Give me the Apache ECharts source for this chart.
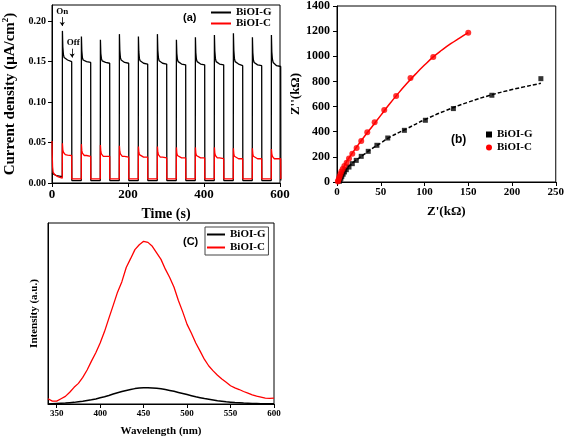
<!DOCTYPE html>
<html><head><meta charset="utf-8">
<script src="https://cdn.jsdelivr.net/npm/echarts@6/dist/echarts.min.js"></script>
<style>html,body{margin:0;padding:0;background:#fff}#c{width:567px;height:438px}</style>
</head><body><div id="c"></div>
<script>
// ---------- Panel (a): transient photocurrent ----------
const onTimes = [27,77,127,177,227,277,327,377,427,477,527,577];
const onOffsets = [0,0.4,1.5,3,5,8,14,24.8];       // s after light on
const lightOffDelay = 25.2;                         // s after light on
const gStart = [[0,0.012],[3,0.010],[12,0.009]];
const cStart = [[0,0.052],[0.6,0.035],[1.5,0.020],[3,0.013],[8,0.010],[15,0.008]];
const gCycles = [
  [0.008,0.188,0.168,0.159,0.155,0.153,0.152,0.150],
  [0.003,0.181,0.163,0.155,0.152,0.151,0.150,0.149],
  [0.003,0.177,0.160,0.154,0.151,0.150,0.149,0.148],
  [0.003,0.184,0.164,0.155,0.152,0.150,0.149,0.148],
  [0.003,0.181,0.162,0.154,0.151,0.149,0.148,0.147],
  [0.003,0.184,0.164,0.155,0.151,0.149,0.148,0.147],
  [0.003,0.177,0.160,0.153,0.150,0.148,0.147,0.146],
  [0.003,0.180,0.161,0.153,0.150,0.148,0.147,0.146],
  [0.003,0.183,0.163,0.154,0.150,0.148,0.147,0.146],
  [0.003,0.185,0.164,0.154,0.150,0.148,0.147,0.145],
  [0.003,0.180,0.161,0.152,0.149,0.147,0.146,0.145],
  [0.003,0.183,0.162,0.153,0.149,0.147,0.145,0.144]
];
const gOff = [0.003,0.003,0.003,0.003,0.003,0.003,0.003,0.003,0.003,0.003,0.003,0.003];
const cCycles = [
  [0.006,0.049,0.041,0.038,0.036,0.035,0.0345,0.034],
  [0.005,0.048,0.040,0.037,0.035,0.034,0.034,0.033],
  [0.005,0.047,0.039,0.036,0.034,0.033,0.033,0.033],
  [0.005,0.046,0.039,0.036,0.034,0.033,0.033,0.032],
  [0.005,0.045,0.038,0.035,0.033,0.033,0.032,0.032],
  [0.005,0.045,0.038,0.035,0.033,0.032,0.032,0.031],
  [0.005,0.044,0.037,0.034,0.033,0.032,0.031,0.031],
  [0.005,0.044,0.037,0.034,0.032,0.032,0.031,0.031],
  [0.005,0.044,0.037,0.034,0.032,0.031,0.031,0.030],
  [0.005,0.043,0.036,0.033,0.032,0.031,0.030,0.030],
  [0.005,0.043,0.036,0.033,0.031,0.031,0.030,0.030],
  [0.005,0.042,0.036,0.033,0.031,0.030,0.030,0.030]
];
const cOff = [0.005,0.005,0.005,0.005,0.005,0.005,0.005,0.005,0.005,0.005,0.005,0.005];
const timeTicks = [0,200,400,600];
const currentTicks = [0,0.05,0.10,0.15,0.20];

// ---------- Panel (b): Nyquist ----------
const gZre = [233,177,133,101,77,58,45.6,35.7,27.7,22,17.5,13.7,10.6,8.5,7,5.5,4.5,3.5,2.8];
const gZim = [822,690,584,491,411,350,292,244,204,172,146,119,98,80,62,45,30,16,6];
const cZre = [150,110,84,67.6,54,43,34.6,27.7,22.4,17.5,13.7,11,8.4,6.5,5,4,3,2.2,1.5,1];
const cZim = [1188,995,828,684,573,475,395,326,270,225,186,154,127,104,83,63,44,27,12,3];
const gFitZre = [2,4,6,10,15,20,30,40,50,60,80,100,125,150,175,200,233];
const gFitZim = [0,30,60,100,135,165,215,265,310,355,425,495,570,635,690,735,785];
const cFitZre = [0.5,2,5,10,15,20,30,40,50,60,70,80,90,100,110,120,130,140,150];
const cFitZim = [0,20,70,150,205,255,350,440,530,620,705,785,860,930,995,1050,1100,1145,1188];

// ---------- Panel (c): PL spectra ----------
const wavelength = [340,345,350,355,360,365,370,375,380,385,390,395,400,405,410,415,420,425,430,435,440,445,450,455,460,465,470,475,480,485,490,495,500,505,510,515,520,525,530,535,540,545,550,555,560,565,570,575,580,585,590,595,600];
const plC = [0.029,0.016,0.016,0.029,0.042,0.065,0.092,0.114,0.147,0.188,0.237,0.283,0.337,0.400,0.473,0.545,0.618,0.676,0.754,0.803,0.853,0.880,0.899,0.893,0.871,0.835,0.799,0.745,0.699,0.645,0.572,0.509,0.440,0.391,0.337,0.292,0.246,0.210,0.183,0.159,0.138,0.120,0.101,0.089,0.080,0.069,0.060,0.051,0.043,0.038,0.033,0.031,0.033];
const plG = [0.000,0.002,0.003,0.004,0.005,0.007,0.009,0.012,0.015,0.019,0.023,0.028,0.034,0.040,0.047,0.055,0.062,0.069,0.075,0.080,0.085,0.088,0.090,0.090,0.089,0.087,0.084,0.080,0.075,0.070,0.064,0.058,0.052,0.046,0.040,0.035,0.030,0.026,0.022,0.018,0.015,0.012,0.010,0.008,0.007,0.005,0.004,0.003,0.003,0.002,0.002,0.001,0.001];
const wlTicks = [350,400,450,500,550,600];

// ---------- build data ----------
function buildTransient(start, cycles, off) {
  const pts = start.slice();
  onTimes.forEach((t, k) => {
    onOffsets.forEach((dt, i) => pts.push([t + dt, cycles[k][i]]));
    pts.push([t + lightOffDelay, off[k]]);
  });
  return pts;
}
const gTrans = buildTransient(gStart, gCycles, gOff);
const cTrans = buildTransient(cStart, cCycles, cOff);
const zip = (a, b) => a.map((v, i) => [v, b[i]]);

const SERIF = 'Liberation Serif';
const axisLineStyle = { show: true, lineStyle: { color: '#000', width: 1 } };
const tick = { show: true, inside: false, length: 4, lineStyle: { color: '#000' } };
const plain = v => String(v);

const chart = echarts.init(document.getElementById('c'), null, { renderer: 'canvas' });
chart.setOption({
  backgroundColor: '#fff',
  animation: false,
  grid: [
    { left: 49, top: 5, width: 231, height: 178, show: true, borderColor: '#000', borderWidth: 1, containLabel: false },
    { left: 337, top: 5, width: 220, height: 177, show: true, borderColor: '#000', borderWidth: 1, containLabel: false },
    { left: 48, top: 223, width: 226, height: 184, show: true, borderColor: '#000', borderWidth: 1, containLabel: false }
  ],
  xAxis: [
    { gridIndex: 0, type: 'value', min: 0, max: 600, interval: 200, axisLine: axisLineStyle, axisTick: tick, splitLine: { show: false },
      axisLabel: { margin: 5, fontFamily: SERIF, fontWeight: 'bold', fontSize: 13, color: '#000', customValues: timeTicks, formatter: plain },
      name: 'Time (s)', nameLocation: 'middle', nameGap: 24, nameTextStyle: { fontFamily: SERIF, fontWeight: 'bold', fontSize: 14, color: '#000' } },
    { gridIndex: 1, type: 'value', min: 0, max: 250, interval: 50, axisLine: axisLineStyle, axisTick: tick, splitLine: { show: false },
      axisLabel: { margin: 5, fontFamily: SERIF, fontWeight: 'bold', fontSize: 11, color: '#000', formatter: plain },
      name: "Z'(kΩ)", nameLocation: 'middle', nameGap: 23, nameTextStyle: { fontFamily: SERIF, fontWeight: 'bold', fontSize: 13, color: '#000' } },
    { gridIndex: 2, type: 'value', min: 340, max: 600, axisLine: axisLineStyle, splitLine: { show: false },
      axisTick: Object.assign({}, tick, { customValues: wlTicks }),
      axisLabel: { margin: 5, fontFamily: SERIF, fontWeight: 'bold', fontSize: 9, color: '#000', customValues: wlTicks, formatter: plain },
      name: 'Wavelength (nm)', nameLocation: 'middle', nameGap: 22, nameTextStyle: { fontFamily: SERIF, fontWeight: 'bold', fontSize: 11, color: '#000' } }
  ],
  yAxis: [
    { gridIndex: 0, type: 'value', min: 0, max: 0.22, axisLine: axisLineStyle, splitLine: { show: false },
      axisTick: Object.assign({}, tick, { customValues: currentTicks }),
      axisLabel: { margin: 6, fontFamily: SERIF, fontWeight: 'bold', fontSize: 10, color: '#000', customValues: currentTicks, formatter: v => v.toFixed(2) },
      name: 'Current density (μA/cm{sup|2})', nameLocation: 'middle', nameGap: 33,
      nameTextStyle: { fontFamily: SERIF, fontWeight: 'bold', fontSize: 15, color: '#000',
        rich: { sup: { fontFamily: SERIF, fontWeight: 'bold', fontSize: 9, color: '#000', padding: [0, 0, 9, 0] } } } },
    { gridIndex: 1, type: 'value', min: 0, max: 1400, interval: 200, axisLine: axisLineStyle, axisTick: tick, splitLine: { show: false },
      axisLabel: { margin: 7, fontFamily: SERIF, fontWeight: 'bold', fontSize: 12, color: '#000', formatter: plain },
      name: "Z''(kΩ)", nameLocation: 'middle', nameGap: 33, nameTextStyle: { fontFamily: SERIF, fontWeight: 'bold', fontSize: 13, color: '#000' } },
    { gridIndex: 2, type: 'value', min: 0, max: 1, axisLine: axisLineStyle, axisTick: { show: false }, axisLabel: { show: false }, splitLine: { show: false },
      name: 'Intensity (a.u.)', nameLocation: 'middle', nameGap: 8, nameTextStyle: { fontFamily: SERIF, fontWeight: 'bold', fontSize: 11, color: '#000' } }
  ],
  legend: [
    { left: 211, top: 7, orient: 'vertical', itemWidth: 20, itemHeight: 2, itemGap: 0, padding: 0,
      textStyle: { fontFamily: SERIF, fontWeight: 'bold', fontSize: 11, color: '#000', lineHeight: 11 },
      data: [{ name: 'BiOI-G', icon: 'rect', itemStyle: { color: '#000' } }, { name: 'BiOI-C', icon: 'rect', itemStyle: { color: '#ff0000' } }] },
    { left: 486, top: 128, orient: 'vertical', itemWidth: 6, itemHeight: 6, itemGap: 0, padding: 0,
      textStyle: { fontFamily: SERIF, fontWeight: 'bold', fontSize: 11, color: '#000', lineHeight: 13 },
      data: [{ name: 'BiOI-G', icon: 'rect', itemStyle: { color: '#000' } }, { name: 'BiOI-C', icon: 'circle', itemStyle: { color: '#ff0000' } }] },
    { left: 205, top: 227, orient: 'vertical', itemWidth: 18, itemHeight: 2, itemGap: 0, padding: [1, 3, 1, 2],
      borderColor: '#444', borderWidth: 1,
      textStyle: { fontFamily: SERIF, fontWeight: 'bold', fontSize: 11, color: '#000', lineHeight: 13 },
      data: [{ name: 'BiOI-G', icon: 'rect', itemStyle: { color: '#000' } }, { name: 'BiOI-C', icon: 'rect', itemStyle: { color: '#ff0000' } }] }
  ],
  graphic: [
    { type: 'text', left: 183, top: 12, style: { text: '(a)', font: 'bold 11px "Liberation Sans"', fill: '#000' } },
    { type: 'text', left: 451, top: 134, style: { text: '(b)', font: 'bold 12px "Liberation Sans"', fill: '#000' } },
    { type: 'text', left: 183, top: 236, style: { text: '(C)', font: 'bold 11px "Liberation Sans"', fill: '#000' } }
  ],
  series: [
    { name: 'BiOI-G', type: 'line', xAxisIndex: 0, yAxisIndex: 0, data: gTrans, showSymbol: false, symbol: 'none',
      lineStyle: { color: '#000', width: 1.3 }, itemStyle: { color: '#000' }, z: 2,
      markPoint: { symbol: 'rect', symbolSize: 1, itemStyle: { color: 'rgba(0,0,0,0)' },
        label: { show: true, position: 'inside', fontFamily: SERIF, fontWeight: 'bold', fontSize: 9, color: '#000', formatter: p => p.name },
        data: [{ name: 'On', coord: [27, 0.2115] }, { name: 'Off', coord: [56, 0.174] }] },
      markLine: { silent: true, symbol: ['none', 'arrow'], symbolSize: 4, label: { show: false },
        lineStyle: { color: '#000', width: 0.8, type: 'solid' },
        data: [[{ coord: [27, 0.205] }, { coord: [27, 0.194] }], [{ coord: [53, 0.166] }, { coord: [53, 0.155] }]] } },
    { name: 'BiOI-C', type: 'line', xAxisIndex: 0, yAxisIndex: 0, data: cTrans, showSymbol: false, symbol: 'none',
      lineStyle: { color: '#ff0000', width: 1.3 }, itemStyle: { color: '#ff0000' }, z: 3 },
    { name: 'G fit', type: 'line', xAxisIndex: 1, yAxisIndex: 1, data: zip(gFitZre, gFitZim), smooth: true, showSymbol: false, symbol: 'none',
      lineStyle: { color: '#000', width: 1.5, type: [4, 2] }, z: 2 },
    { name: 'C fit', type: 'line', xAxisIndex: 1, yAxisIndex: 1, data: zip(cFitZre, cFitZim), smooth: true, showSymbol: false, symbol: 'none',
      lineStyle: { color: '#ff0000', width: 1.5 }, z: 2 },
    { name: 'BiOI-G', type: 'scatter', xAxisIndex: 1, yAxisIndex: 1, data: zip(gZre, gZim), symbol: 'rect', symbolSize: 5,
      itemStyle: { color: '#000' }, z: 3 },
    { name: 'BiOI-C', type: 'scatter', xAxisIndex: 1, yAxisIndex: 1, data: zip(cZre, cZim), symbol: 'circle', symbolSize: 6,
      itemStyle: { color: '#ff0000' }, z: 3 },
    { name: 'BiOI-G', type: 'line', xAxisIndex: 2, yAxisIndex: 2, data: zip(wavelength, plG), showSymbol: false, symbol: 'none',
      lineStyle: { color: '#000', width: 1.5 }, itemStyle: { color: '#000' }, z: 2 },
    { name: 'BiOI-C', type: 'line', xAxisIndex: 2, yAxisIndex: 2, data: zip(wavelength, plC), showSymbol: false, symbol: 'none',
      lineStyle: { color: '#ff0000', width: 1.3 }, itemStyle: { color: '#ff0000' }, z: 3 }
  ]
});
</script></body></html>
